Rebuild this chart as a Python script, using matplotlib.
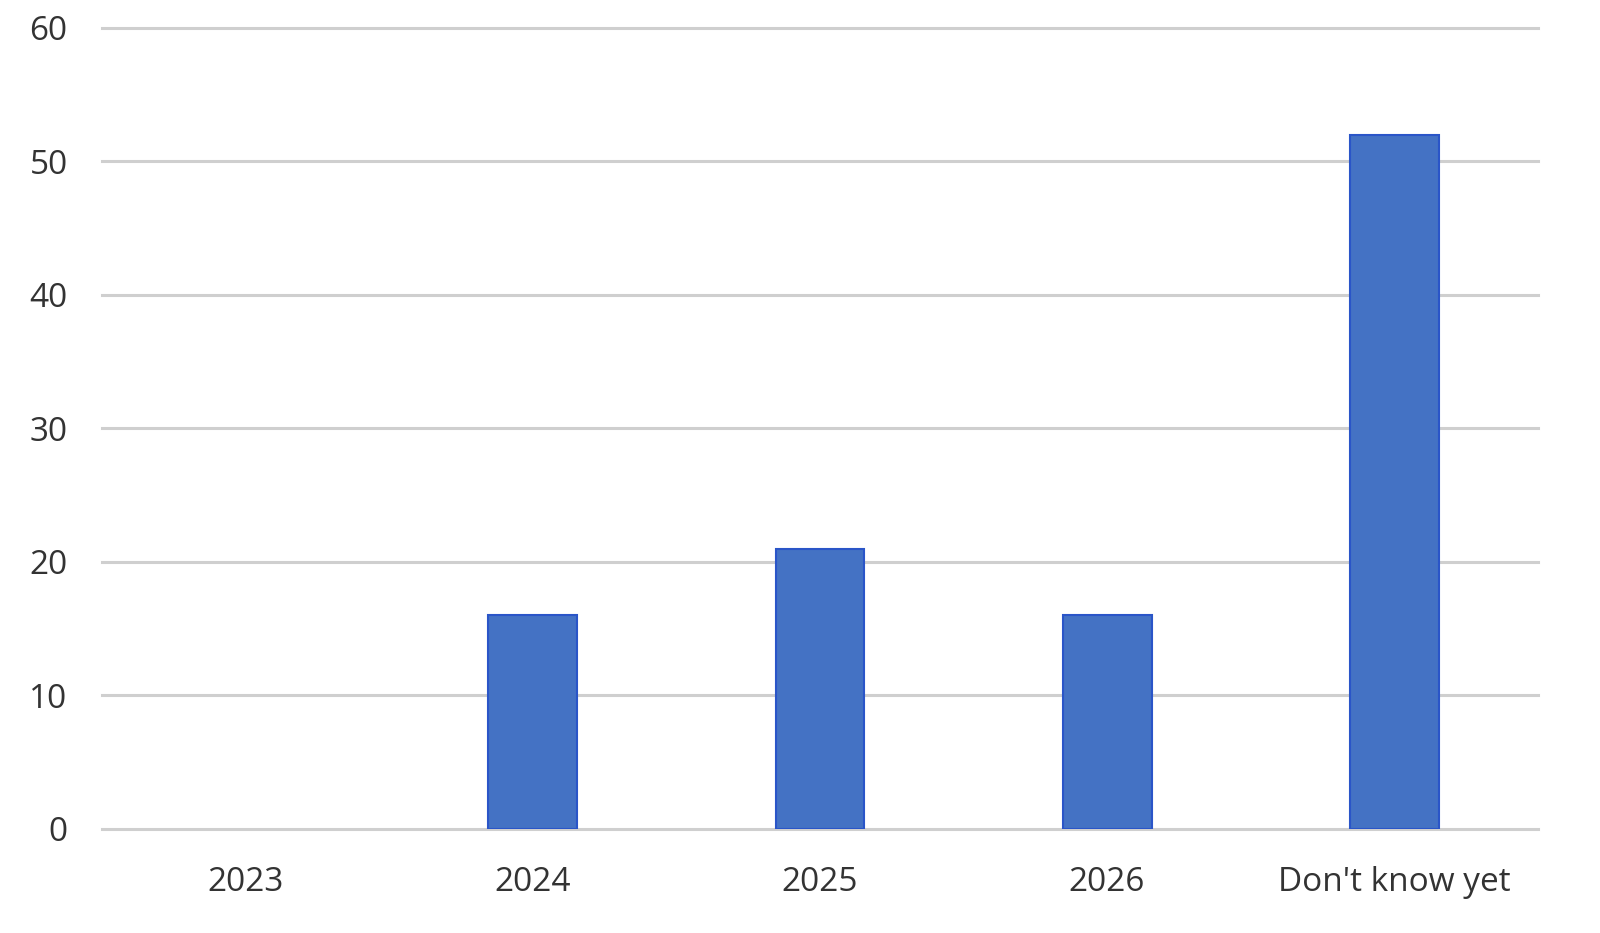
import matplotlib
matplotlib.use("Agg")
import matplotlib.pyplot as plt

categories = ["2023", "2024", "2025", "2026", "Don't know yet"]
values = [0, 16, 21, 16, 52]
yticks = [0, 10, 20, 30, 40, 50, 60]

plt.rcParams['font.family'] = ['Open Sans', 'DejaVu Sans']

fig = plt.figure(figsize=(16, 9.33), dpi=100)
ax = fig.add_axes([0.064, 0.1115, 0.897, 0.8585])

x = list(range(len(categories)))
bars = ax.bar(x, values, width=0.31, color="#4472C4", edgecolor="#2A55C8", linewidth=1.5, zorder=3)
for b, v in zip(bars, values):
    if v == 0:
        b.set_visible(False)

ax.set_xlim(-0.5, len(categories) - 0.5)
ax.set_ylim(0, 60)
ax.set_yticks(yticks)
ax.set_xticks(x)
ax.set_xticklabels(categories)
ax.yaxis.grid(True, color="#CFCFCF", linewidth=2.2, clip_on=False)
ax.set_axisbelow(True)
for s in ax.spines.values():
    s.set_visible(False)
ax.tick_params(axis='both', length=0, labelsize=24, colors="#333333")
ax.tick_params(axis='y', pad=25)
ax.tick_params(axis='x', pad=27)

fig.savefig("out.png", dpi=100, facecolor="white")
